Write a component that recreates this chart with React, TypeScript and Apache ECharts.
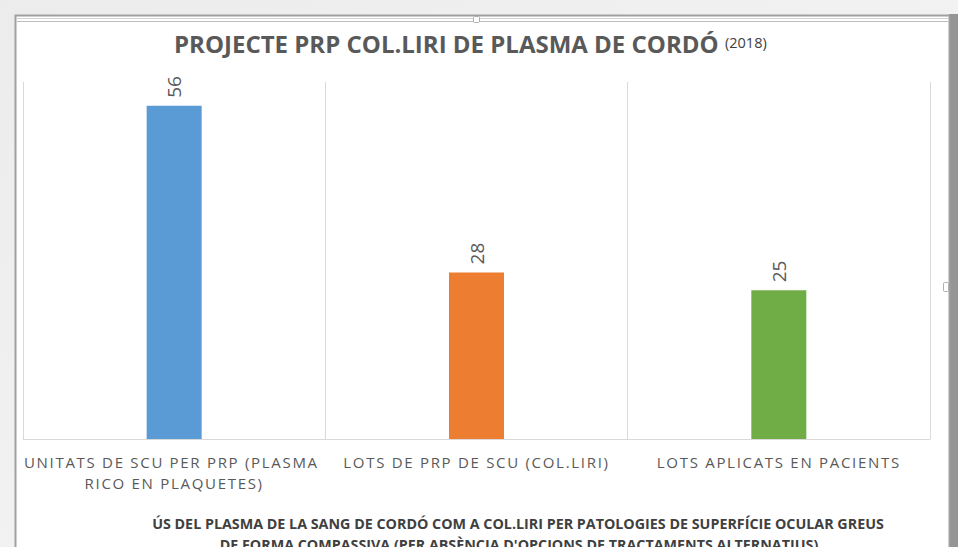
import React, { useEffect, useRef } from "react";
import * as echarts from "echarts";

const categories = [
  "UNITATS DE SCU PER PRP (PLASMA RICO EN PLAQUETES)",
  "LOTS DE PRP DE SCU (COL.LIRI)",
  "LOTS APLICATS EN PACIENTS",
];
const values = [56, 28, 25];
const barColors = ["#5b9bd5", "#ed7d31", "#70ad47"];
const titleMain = "PROJECTE PRP COL.LIRI DE PLASMA DE CORDÓ";
const titleYear = "(2018)";
const footLine1 = "ÚS DEL PLASMA DE LA SANG DE CORDÓ COM A COL.LIRI PER PATOLOGIES DE SUPERFÍCIE OCULAR GREUS";
const footLine2 = "DE FORMA COMPASSIVA (PER ABSÈNCIA D'OPCIONS DE TRACTAMENTS ALTERNATIUS)";

export default function App() {
  const ref = useRef<HTMLDivElement>(null);
  useEffect(() => {
    if (!ref.current) return;
    const el = ref.current;
    const chart = echarts.init(el, undefined, { renderer: "svg" });
    const spaceLabels = () => {
      el.querySelectorAll("text").forEach((t) => {
        const s = (t.textContent || "").trim();
        if (s.length > 3 && categories.some((c) => c.includes(s))) {
          t.setAttribute("letter-spacing", "1.7");
        }
      });
    };
    chart.on("finished", spaceLabels);
    chart.setOption({
      animation: false,
      backgroundColor: new echarts.graphic.LinearGradient(0, 0, 1, 1, [
        { offset: 0, color: "#ececec" },
        { offset: 1, color: "#f7f7f7" },
      ]),
      graphic: [
        {
          type: "rect",
          z: -10,
          shape: { x: 949, y: 14, width: 9, height: 540 },
          style: { fill: "#959595" },
          silent: true,
        },
        {
          type: "rect",
          z: -9,
          shape: { x: 15.5, y: 15.5, width: 934, height: 540 },
          style: { fill: "#ffffff", stroke: "#a0a0a0", lineWidth: 2 },
          silent: true,
        },
        {
          type: "line",
          z: -8,
          shape: { x1: 17, y1: 18.5, x2: 948, y2: 18.5 },
          style: { stroke: "#d4d4d4", lineWidth: 1 },
        },
        {
          type: "line",
          z: -8,
          shape: { x1: 17, y1: 21.5, x2: 948, y2: 21.5 },
          style: { stroke: "#bcbcbc", lineWidth: 1 },
        },
        {
          type: "rect",
          z: -7,
          shape: { x: 473.5, y: 16.5, width: 6, height: 6, r: 1 },
          style: { fill: "#ffffff", stroke: "#b0b0b0", lineWidth: 1 },
        },
        {
          type: "rect",
          z: -7,
          shape: { x: 943.5, y: 282.5, width: 5, height: 9, r: 1 },
          style: { fill: "#ffffff", stroke: "#b0b0b0", lineWidth: 1 },
        },
        {
          type: "text",
          x: 174,
          y: 43,
          style: {
            text: titleMain,
            fill: "#595959",
            font: "bold 24px 'Open Sans'",
            align: "left",
            verticalAlign: "middle",
          },
        },
        {
          type: "text",
          x: 725,
          y: 42,
          style: {
            text: titleYear,
            fill: "#404040",
            font: "14.5px 'Open Sans'",
            align: "left",
            verticalAlign: "middle",
          },
        },
        {
          type: "text",
          x: 518,
          y: 523,
          style: {
            text: footLine1,
            fill: "#404040",
            font: "bold 14.3px 'Open Sans'",
            align: "center",
            verticalAlign: "middle",
          },
        },
        {
          type: "text",
          x: 519,
          y: 544,
          style: {
            text: footLine2,
            fill: "#404040",
            font: "bold 14.3px 'Open Sans'",
            align: "center",
            verticalAlign: "middle",
          },
        },
      ],
      grid: { left: 23, right: 28, top: 82, bottom: 108, containLabel: false },
      xAxis: {
        type: "category",
        data: categories,
        boundaryGap: true,
        axisLine: { show: true, lineStyle: { color: "#d9d9d9", width: 1 } },
        axisTick: { show: false },
        splitLine: { show: true, interval: 0, lineStyle: { color: "#d9d9d9", width: 1 } },
        axisLabel: {
          interval: 0,
          color: "#595959",
          fontFamily: "Open Sans",
          fontSize: 15,
          margin: 12,
          width: 280,
          overflow: "break",
          lineHeight: 21,
        },
      },
      yAxis: {
        type: "value",
        min: 0,
        max: 60,
        show: false,
        splitLine: { show: false },
      },
      series: [
        {
          type: "bar",
          barWidth: 55,
          data: values.map((v, i) => ({ value: v, itemStyle: { color: barColors[i] } })),
          label: {
            show: true,
            position: "top",
            rotate: 90,
            align: "left",
            verticalAlign: "middle",
            distance: 8,
            color: "#595959",
            fontFamily: "Open Sans",
            fontSize: 19,
          },
        },
      ],
    });
    spaceLabels();
    const raf = requestAnimationFrame(spaceLabels);
    const to = setTimeout(spaceLabels, 50);
    return () => {
      cancelAnimationFrame(raf);
      clearTimeout(to);
      chart.dispose();
    };
  }, []);
  return (
    <div
      ref={ref}
      style={{ position: "fixed", left: 0, top: 0, width: 958, height: 547 }}
    />
  );
}
